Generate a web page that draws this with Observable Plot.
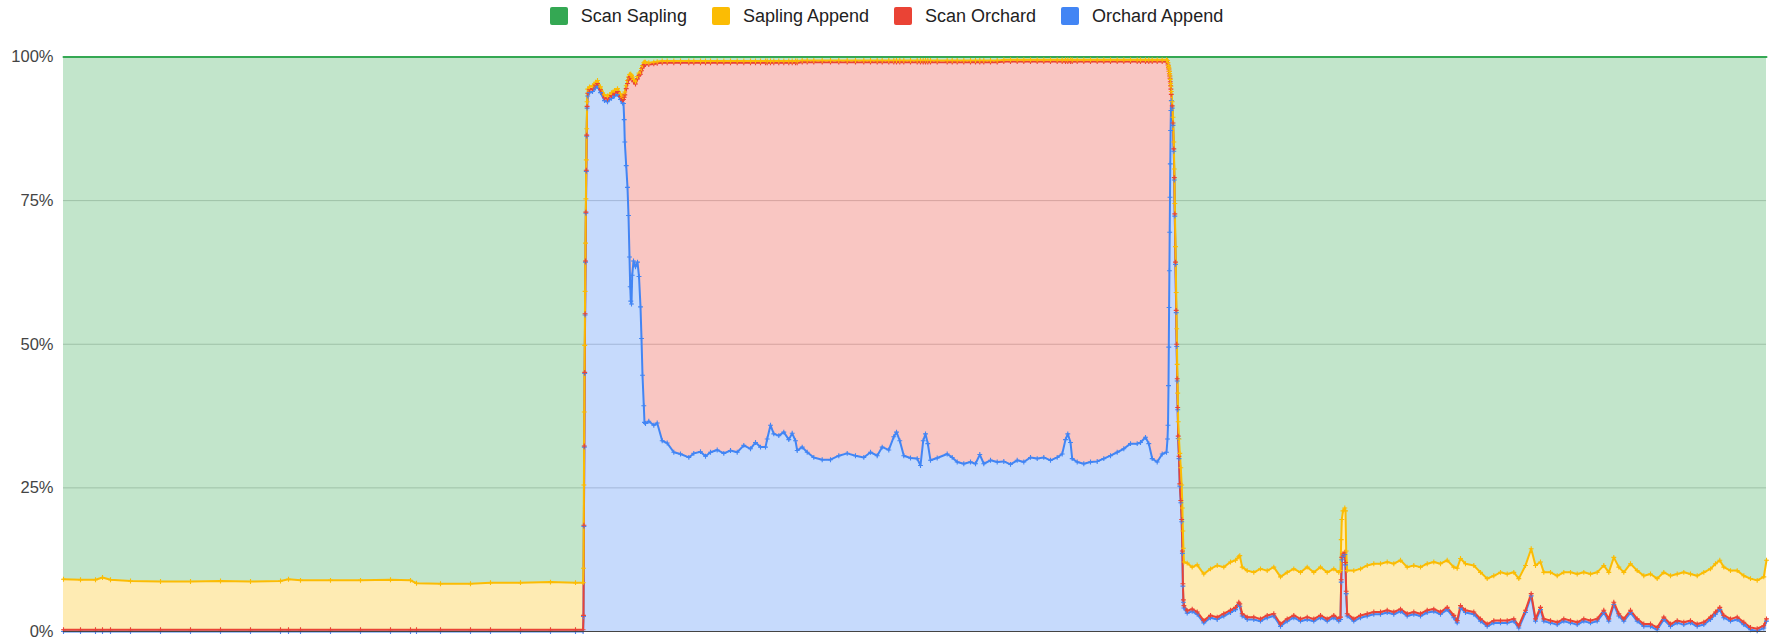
<!DOCTYPE html>
<html><head><meta charset="utf-8">
<script src="https://cdn.jsdelivr.net/npm/d3@7"></script>
<script src="https://cdn.jsdelivr.net/npm/@observablehq/plot@0.6"></script>
<style>
html,body{margin:0;padding:0;background:#fff;}
body{width:1773px;height:639px;overflow:hidden;font-family:Arial,"Liberation Sans",sans-serif;}
#legend{height:40px;display:flex;justify-content:center;align-items:flex-start;padding-top:7px;box-sizing:border-box;}
.item{display:flex;align-items:center;margin:0 12.5px;font-size:18px;color:#222;line-height:18px;white-space:nowrap;}
.sw{width:18px;height:18px;border-radius:2px;margin-right:13px;}
#chart svg{display:block;}
</style></head><body>
<div id="legend"></div><div id="chart"></div>
<script>
// Series names (stack order bottom -> top) and legend order
const seriesNames = ["Orchard Append", "Scan Orchard", "Sapling Append", "Scan Sapling"];
const legendOrder = ["Scan Sapling", "Sapling Append", "Scan Orchard", "Orchard Append"];
const seriesColors = ["#4285F4", "#EA4335", "#FBBC04", "#34A853"];
const yTicks = [0, 25, 50, 75, 100];

// Sample index along the (unlabelled) x axis
const sample = [
  0,17,32,39,47,67,97,127,157,187,217,225,237,267,297,327,347,353,377,407,427,457,487,512,519.6,
  520,520.4,520.8,521.2,521.6,522,522.4,522.8,523.2,523.6,524.2,
  526,529,532,534,537,541,544,548,551,554,557,559,
  560,560.7,561.3,562.7,564,565,566,566.7,567.3,568,568.7,570,572,574,575.5,577,578,579,580.3,581,582,585.3,590.3,593.7,
  598.7,603.7,610.3,617,625.3,630.3,637,642,647,653.7,660.3,667,673.7,680.3,687,692,697,702,703.7,707,710.3,715.3,720.3,725.3,728.7,732,733.7,
  738.7,743.7,750.3,758.7,767,775.3,783.7,792,800.3,807,813.7,818.7,825.3,830.3,833,836.3,840.3,847,853.7,857,859.7,862,864.3,867,873.7,883.7,888.7,893.7,900.3,907,912,916.3,920.3,927,933.7,
  940.3,947,953.7,960.3,967,973.7,980.3,987,993.7,998.7,1002,1004.3,1007,1008.7,1013.7,1020.3,1027,1033.7,1040.3,1047,1053.7,1060.3,1067,1073.7,1077,1082,1085.3,1088.7,1093.7,1098.7,1103,
  1104,1104.5,1105,1105.3,1105.6,1105.9,1106.2,1106.5,1106.8,1107.1,1107.4,1107.8,
  1108.7,1109.5,1110.3,1110.8,1111.3,1112,1112.7,1113.2,1113.7,1114.2,1114.7,1115.5,1116.3,1117.3,1118.2,1118.9,1119.4,1119.9,1120.4,
  1123.7,1128.7,1133.7,1140.3,1147,1153.7,1160.3,1167,1172,1175.3,1176.3,1178.7,1183.7,1190.3,1197,1203.7,1210.3,1217,1223.7,1230.3,
  1237,1243.7,1250.3,1257,1263.7,1270.3,1275.3,1277,1277.7,1278.3,1279.5,1281.3,1282,1282.7,1283.7,1290.3,1297,1303.7,1310.3,1317,
  1323.7,1330.3,1337,1343.7,1350.3,1357,1363.7,1370.3,1377,1383.7,1390.3,1393.7,1397,1402,1410.3,1417,1423.7,1430.3,1437,1443.7,
  1450.3,1455.3,1462,1467.7,1472,1477,1480.3,1487,1493.7,1500.3,1507,1513.7,1520.3,1527,1533.7,1540.3,1545.3,1550.3,1555.3,1560.3,
  1567,1573.7,1580.3,1587,1593.7,1600.3,1607,1613.7,1620.3,1627,1633.7,1640.3,1647,1652,1656.3,1660.3,1667,1673.7,1680.3,1687,
  1693.7,1700.3,1703
];

// Share of each series (%)
const orchardAppend = [
  0,0,0,0,0,0,0,0,0,0,0,0,0,0,0,0,0,0,0,0,0,0,0,0,0,
  2.6,18.3,32.1,44.9,55.1,64.3,72.8,80.1,86.2,91.1,93.2,
  93.8,94.0,94.6,94.9,93.8,92.4,92.2,92.8,93.2,93.5,92.6,92.0,
  91.9,89.1,85.2,81.1,77.3,72.4,65.2,60.0,57.5,57.0,62.0,64.5,63.5,64.3,61.8,56.5,51.0,44.6,39.3,36.4,36.2,36.6,35.9,36.3,
  33.2,32.8,31.2,30.9,30.3,31.0,31.3,30.5,31.2,31.6,31.0,31.5,31.2,32.4,31.8,32.9,32.1,32.1,33.5,35.9,34.4,34.1,34.7,33.4,34.5,33.2,31.5,
  32.1,31.2,30.3,29.9,29.9,30.6,31.0,30.6,30.3,31.2,30.6,32.1,31.6,33.9,34.7,33.2,30.6,30.2,30.1,28.9,33.2,34.4,32.7,29.8,30.2,30.9,30.3,29.5,29.2,29.5,29.2,30.8,29.2,29.8,29.5,
  29.6,29.1,29.8,29.5,30.3,30.1,30.3,29.8,30.3,30.9,33.4,34.4,32.9,30.1,29.5,29.2,29.5,29.6,30.1,30.6,31.2,31.8,32.7,32.7,32.9,33.8,32.7,30.1,29.5,30.9,31.2,
  33.5,35.9,42.8,49.5,56.4,62.8,69.5,75.6,81.4,87.2,90.7,92.4,
  91.1,88.1,83.6,78.6,72.3,63.9,55.5,49.6,43.6,38.6,33.6,30.1,25.3,22.4,19.1,13.6,7.9,5.1,4.1,
  3.2,3.5,3.0,1.5,2.4,2.1,2.7,3.3,3.8,4.7,4.4,2.7,2.1,2.1,1.8,2.4,2.7,0.9,1.8,2.4,
  1.8,2.1,1.8,2.4,1.8,2.4,1.8,2.1,8.6,12.5,13.1,13.4,11.6,6.6,2.7,1.8,2.4,2.7,3.0,3.0,
  3.3,3.0,3.5,2.7,3.0,2.7,3.3,3.5,3.0,3.8,2.4,1.5,4.1,3.3,3.0,1.8,0.9,1.5,1.5,1.5,
  1.8,0.6,3.3,6.2,1.8,3.8,1.8,1.5,1.2,1.8,1.5,1.2,1.8,1.5,1.8,3.3,1.8,4.7,2.7,1.8,
  3.3,1.8,0.9,0.9,0.3,2.1,0.9,1.5,1.2,1.5,0.9,1.2,2.1,3.0,3.8,2.4,1.8,2.1,1.2,0.3,
  0.1,0.6,1.8
];

const scanOrchard = [
  0.3,0.3,0.3,0.3,0.3,0.3,0.3,0.3,0.3,0.3,0.3,0.3,0.3,0.3,0.3,0.3,0.3,0.3,0.3,0.3,0.3,0.3,0.3,0.3,0.3,
  0.2,0.2,0.2,0.2,0.2,0.2,0.2,0.2,0.2,0.3,0.5,
  0.5,0.5,0.5,0.5,0.5,0.5,0.5,0.5,0.5,0.5,0.5,0.5,
  0.7,3.9,8.2,13.4,18.1,23.6,31.2,36.6,39.1,39.4,34.1,31.2,31.8,31.9,35.0,40.5,46.6,53.5,59.3,62.3,62.5,62.1,62.9,62.6,
  65.8,66.2,67.8,68.1,68.7,68.0,67.7,68.5,67.8,67.4,68.0,67.5,67.8,66.6,67.2,66.1,66.9,66.9,65.5,63.1,64.6,64.9,64.3,65.6,64.5,65.8,67.5,
  67.0,67.9,68.8,69.2,69.2,68.5,68.1,68.5,68.8,67.9,68.5,67.0,67.5,65.2,64.4,65.9,68.5,68.9,69.0,70.2,65.9,64.7,66.4,69.3,68.9,68.2,68.8,69.6,69.9,69.6,69.9,68.3,69.9,69.3,69.6,
  69.6,70.1,69.4,69.7,68.9,69.1,68.9,69.4,68.9,68.3,65.8,64.8,66.3,69.1,69.7,70.0,69.7,69.6,69.1,68.6,68.0,67.4,66.5,66.5,66.3,65.4,66.5,69.1,69.7,68.3,68.0,
  65.5,62.7,55.4,48.4,41.1,34.3,27.2,20.7,14.3,7.8,3.7,1.1,
  0.4,0.4,0.4,0.4,0.4,0.4,0.4,0.4,0.4,0.4,0.4,0.4,0.4,0.4,0.4,0.4,0.4,0.4,0.4,
  0.4,0.4,0.4,0.4,0.4,0.4,0.4,0.4,0.4,0.4,0.4,0.4,0.4,0.4,0.4,0.4,0.4,0.4,0.4,0.4,
  0.4,0.4,0.4,0.4,0.4,0.4,0.4,0.4,0.4,0.4,0.4,0.4,0.4,0.4,0.4,0.4,0.4,0.4,0.4,0.4,
  0.4,0.4,0.4,0.4,0.4,0.4,0.4,0.4,0.4,0.4,0.4,0.4,0.4,0.4,0.4,0.4,0.4,0.4,0.4,0.4,
  0.4,0.4,0.4,0.4,0.4,0.4,0.4,0.4,0.4,0.4,0.4,0.4,0.4,0.4,0.4,0.4,0.4,0.4,0.4,0.4,
  0.4,0.4,0.4,0.4,0.4,0.4,0.4,0.4,0.4,0.4,0.4,0.4,0.4,0.4,0.4,0.4,0.4,0.4,0.4,0.4,
  0.4,0.4,0.4
];

const saplingAppend = [
  8.8,8.7,8.7,9.1,8.7,8.5,8.4,8.4,8.5,8.4,8.5,8.8,8.6,8.6,8.6,8.7,8.6,8.1,8.0,8.0,8.2,8.2,8.3,8.2,8.2,
  8.2,7.0,5.9,4.7,3.9,3.1,2.3,1.8,1.1,0.8,0.7,
  0.5,0.5,0.5,0.5,0.5,0.5,0.5,0.5,0.5,0.5,0.5,0.5,
  0.5,0.5,0.5,0.5,0.5,0.5,0.5,0.4,0.4,0.4,0.4,0.4,0.4,0.4,0.4,0.4,0.4,0.4,0.4,0.4,0.4,0.3,0.3,0.3,
  0.3,0.3,0.3,0.3,0.3,0.3,0.3,0.3,0.3,0.3,0.3,0.3,0.3,0.3,0.3,0.3,0.3,0.3,0.3,0.3,0.3,0.3,0.3,0.3,0.3,0.3,0.3,
  0.3,0.3,0.3,0.3,0.3,0.3,0.3,0.3,0.3,0.3,0.3,0.3,0.3,0.3,0.3,0.3,0.3,0.3,0.3,0.3,0.3,0.3,0.3,0.3,0.3,0.3,0.3,0.3,0.3,0.3,0.3,0.3,0.3,0.3,0.3,
  0.3,0.3,0.3,0.3,0.3,0.3,0.3,0.3,0.3,0.3,0.3,0.3,0.3,0.3,0.3,0.3,0.3,0.3,0.3,0.3,0.3,0.3,0.3,0.3,0.3,0.3,0.3,0.3,0.3,0.3,0.3,
  0.4,0.4,0.3,0.3,0.4,0.4,0.4,0.4,0.4,0.4,0.5,0.5,
  0.7,1.0,1.2,1.5,1.8,2.7,3.1,2.7,2.5,2.5,2.5,3.0,5.3,5.7,6.0,7.5,9.2,9.0,7.6,
  8.3,7.3,8.2,8.1,8.1,9.0,8.1,8.4,8.2,7.9,8.4,8.1,8.1,7.8,8.7,7.8,8.1,8.2,8.1,8.1,
  8.1,8.7,8.1,8.4,8.1,8.1,8.1,8.1,7.0,6.6,7.5,7.7,9.0,7.0,7.5,8.4,8.1,8.4,8.4,8.4,
  8.4,8.4,8.5,8.1,8.1,8.1,8.1,8.2,8.4,8.2,8.4,9.1,8.2,8.1,8.1,8.1,7.9,7.8,8.4,8.1,
  8.1,8.2,7.8,7.8,9.3,7.9,8.1,8.4,8.1,8.1,8.4,8.4,8.1,8.1,8.1,7.8,8.1,7.8,8.1,8.1,
  8.1,8.4,8.4,8.7,8.5,7.8,8.4,8.1,8.7,8.1,8.4,8.7,8.4,8.4,8.2,8.4,8.4,8.1,8.1,8.5,
  8.4,8.5,10.2
];

const scanSapling = [
  90.9,91.0,91.0,90.6,91.0,91.2,91.3,91.3,91.2,91.3,91.2,90.9,91.1,91.1,91.1,91.0,91.1,91.6,91.7,91.7,91.5,91.5,91.4,91.5,91.5,
  89.0,74.5,61.8,50.2,40.8,32.4,24.7,17.9,12.5,7.8,5.6,
  5.2,5.0,4.4,4.1,5.2,6.6,6.8,6.2,5.8,5.5,6.4,7.0,
  6.9,6.5,6.1,5.0,4.1,3.5,3.1,3.0,3.0,3.2,3.5,3.9,4.3,3.4,2.8,2.6,2.0,1.5,1.0,0.9,0.9,1.0,0.9,0.8,
  0.7,0.7,0.7,0.7,0.7,0.7,0.7,0.7,0.7,0.7,0.7,0.7,0.7,0.7,0.7,0.7,0.7,0.7,0.7,0.7,0.7,0.7,0.7,0.7,0.7,0.7,0.7,
  0.6,0.6,0.6,0.6,0.6,0.6,0.6,0.6,0.6,0.6,0.6,0.6,0.6,0.6,0.6,0.6,0.6,0.6,0.6,0.6,0.6,0.6,0.6,0.6,0.6,0.6,0.6,0.6,0.6,0.6,0.6,0.6,0.6,0.6,0.6,
  0.5,0.5,0.5,0.5,0.5,0.5,0.5,0.5,0.5,0.5,0.5,0.5,0.5,0.5,0.5,0.5,0.5,0.5,0.5,0.5,0.5,0.5,0.5,0.5,0.5,0.5,0.5,0.5,0.5,0.5,0.5,
  0.6,1.0,1.5,1.8,2.1,2.5,2.9,3.3,3.9,4.6,5.1,6.0,
  7.8,10.5,14.8,19.5,25.5,33.0,41.0,47.3,53.5,58.5,63.5,66.5,69.0,71.5,74.5,78.5,82.5,85.5,87.9,
  88.1,88.8,88.4,90.0,89.1,88.5,88.8,87.9,87.6,87.0,86.8,88.8,89.4,89.7,89.1,89.4,88.8,90.5,89.7,89.1,
  89.7,88.8,89.7,88.8,89.7,89.1,89.7,89.4,84.0,80.5,79.0,78.5,79.0,86.0,89.4,89.4,89.1,88.5,88.2,88.2,
  87.9,88.2,87.6,88.8,88.5,88.8,88.2,87.9,88.2,87.6,88.8,89.0,87.3,88.2,88.5,89.7,90.8,90.3,89.7,90.0,
  89.7,90.8,88.5,85.6,88.5,87.9,89.7,89.7,90.3,89.7,89.7,90.0,89.7,90.0,89.7,88.5,89.7,87.1,88.8,89.7,
  88.2,89.4,90.3,90.0,90.8,89.7,90.3,90.0,89.7,90.0,90.3,89.7,89.1,88.2,87.6,88.8,89.4,89.4,90.3,90.8,
  91.1,90.5,87.6
];

// Long-format table built from the arrays
const seriesValues = {
  "Orchard Append": orchardAppend,
  "Scan Orchard": scanOrchard,
  "Sapling Append": saplingAppend,
  "Scan Sapling": scanSapling
};
const n = Math.min(sample.length, orchardAppend.length, scanOrchard.length, saplingAppend.length, scanSapling.length);
const table = [];
for (let i = 0; i < n; i++) {
  for (const s of seriesNames) table.push({sample: sample[i], series: s, value: seriesValues[s][i]});
}

// Legend
const colorOf = Object.fromEntries(seriesNames.map((s, i) => [s, seriesColors[i]]));
const legend = document.getElementById("legend");
for (const s of legendOrder) {
  const it = document.createElement("div");
  it.className = "item";
  const sw = document.createElement("span");
  sw.className = "sw";
  sw.style.background = colorOf[s];
  const tx = document.createElement("span");
  tx.textContent = s;
  it.appendChild(sw); it.appendChild(tx);
  legend.appendChild(it);
}

const stackOpts = {x: "sample", y: "value", z: "series", order: seriesNames};

const chart = Plot.plot({
  width: 1773,
  height: 599,
  marginTop: 16.5,
  marginBottom: 8,
  marginLeft: 63,
  marginRight: 7,
  x: {domain: [d3.min(sample), d3.max(sample)], axis: null},
  y: {domain: [0, 100], axis: null},
  color: {domain: seriesNames, range: seriesColors},
  style: {fontFamily: 'Arial, "Liberation Sans", sans-serif', fontSize: "17px", color: "#444", background: "#fff", overflow: "visible"},
  marks: [
    Plot.ruleY([25, 50, 75], {stroke: "#ccc", strokeWidth: 1}),
    Plot.areaY(table, {...stackOpts, fill: "series", fillOpacity: 0.3}),
    Plot.lineY(table, Plot.stackY2({...stackOpts, stroke: "series", strokeWidth: 2})),
    Plot.dot(table, Plot.filter(d => d.series !== "Scan Sapling",
      Plot.stackY2({...stackOpts, stroke: "series", symbol: "plus", r: 1.7, strokeWidth: 1.1}))),
    Plot.ruleY([0], {stroke: "#444", strokeWidth: 1.2}),
    Plot.axisY({ticks: yTicks, tickFormat: d => d + "%", tickSize: 0, tickPadding: 10, label: null, fontSize: 16.5, fill: "#444"})
  ]
});
document.getElementById("chart").appendChild(chart);
</script>
</body></html>
